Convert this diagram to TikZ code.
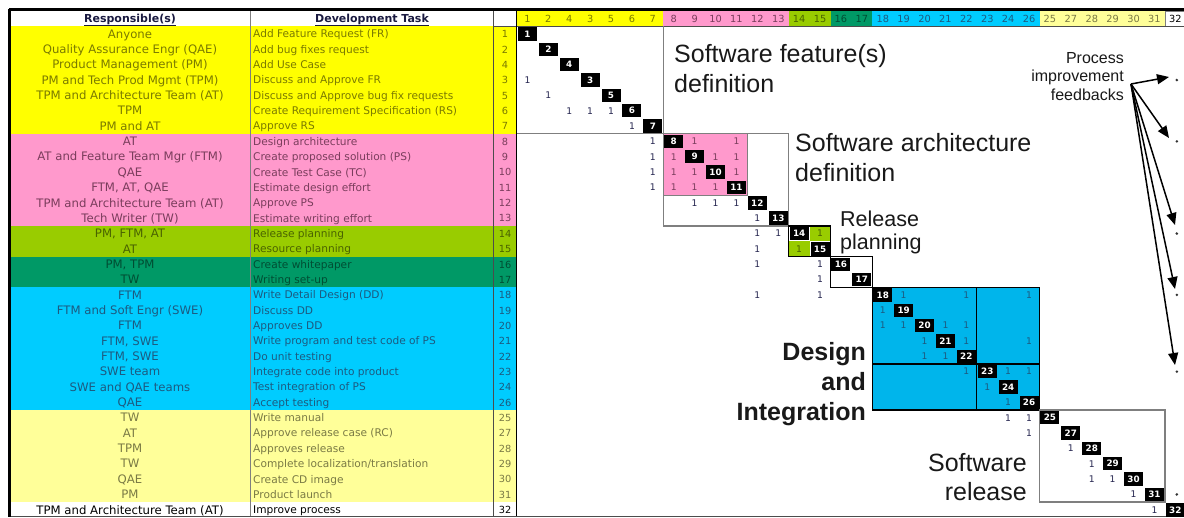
\documentclass[tikz,border=0pt]{standalone}
\usepackage{fontspec}
\setmainfont{DejaVu Sans}
\newfontfamily\arialf{Liberation Sans}
\usetikzlibrary{arrows.meta}

% group fills
\definecolor{fYel}{HTML}{FFFF00}
\definecolor{fPnk}{HTML}{FF99CC}
\definecolor{fGrn}{HTML}{99CC00}
\definecolor{fDGr}{HTML}{009966}
\definecolor{fCyn}{HTML}{00CCFF}
\definecolor{fLYl}{HTML}{FFFF99}
\definecolor{bCyn}{HTML}{00B5EB}
% group text tints
\definecolor{tYel}{HTML}{7A7A00}
\definecolor{tPnk}{HTML}{7A3D5C}
\definecolor{tGrn}{HTML}{4A6300}
\definecolor{tDGr}{HTML}{004D33}
\definecolor{tCyn}{HTML}{1D5A80}
\definecolor{tLYl}{HTML}{7A7A45}
\definecolor{cOne}{HTML}{262650}
\definecolor{cHead}{HTML}{1A1A40}
\definecolor{gLine}{HTML}{7F7F7F}

% position, item number, text tint
\def\items{1/1/tYel,2/2/tYel,3/4/tYel,4/3/tYel,5/5/tYel,6/6/tYel,7/7/tYel,
8/8/tPnk,9/9/tPnk,10/10/tPnk,11/11/tPnk,12/12/tPnk,13/13/tPnk,
14/14/tGrn,15/15/tGrn,16/16/tDGr,17/17/tDGr,
18/18/tCyn,19/19/tCyn,20/20/tCyn,21/21/tCyn,22/22/tCyn,23/23/tCyn,24/24/tCyn,25/26/tCyn,
26/25/tLYl,27/27/tLYl,28/28/tLYl,29/29/tLYl,30/30/tLYl,31/31/tLYl,32/32/black}

\begin{document}
\begin{tikzpicture}[x=1pt,y=-1pt,
  declare function={lx(\c)=517+(\c-1)*20.9; cx(\c)=517+(\c-0.5)*20.9;
                    ty(\r)=26.3+(\r-1)*15.35; cy(\r)=26.3+(\r-0.5)*15.35;},
  resp/.style={font=\fontsize{11.7}{13}\selectfont, inner sep=0pt, anchor=base},
  task/.style={font=\fontsize{10.6}{12}\selectfont, inner sep=0pt, anchor=base west},
  head/.style={font=\bfseries\fontsize{11}{12}\selectfont, inner sep=0pt, anchor=base, text=cHead},
  colnum/.style={font=\fontsize{9.8}{11}\selectfont, inner sep=0pt, anchor=base},
  one/.style={font=\fontsize{9.2}{10}\selectfont, inner sep=0pt, anchor=base, text=cOne},
  diagbox/.style={fill=black, minimum width=19pt, minimum height=13.4pt, inner sep=0pt,
                  text=white, font=\bfseries\fontsize{8.8}{10}\selectfont},
  big/.style={font=\arialf\fontsize{25}{30}\selectfont, inner sep=0pt, text=black!90},
  bigb/.style={big, font=\arialf\bfseries\fontsize{25}{30}\selectfont},
  mid/.style={big, font=\arialf\fontsize{21.5}{26}\selectfont},
  small/.style={big, font=\arialf\fontsize{16}{18}\selectfont},
  grayblock/.style={draw=gLine, line width=1.4pt},
  blackblock/.style={draw=black, line width=1.3pt},
  fbarrow/.style={draw=black, line width=1.5pt, -{Triangle[length=12pt,width=10pt]}},
  dot/.style={circle, fill=black!80, inner sep=0pt, minimum size=2.8pt}
]
\useasboundingbox (0,0) rectangle (1184,517);
\fill[white] (0,0) rectangle (1184,517);

% ---- row backgrounds of the task table ----
\foreach \a/\b/\col in {1/7/fYel, 8/13/fPnk, 14/15/fGrn, 16/17/fDGr, 18/25/fCyn, 26/31/fLYl}
  \fill[\col] (10.5,{ty(\a)}) rectangle (516,{ty(\b+1)});

% ---- column header cells of the matrix ----
\foreach \a/\b/\col in {1/7/fYel, 8/13/fPnk, 14/15/fGrn, 16/17/fDGr, 18/25/fCyn, 26/31/fLYl}
  \fill[\col] ({lx(\a)},10.5) rectangle ({lx(\b+1)},26.3);
\draw[gLine, line width=0.8pt] ({lx(32)},11) rectangle ({lx(33)},26.3);

% ---- table headers ----
\node[head] (hresp) at (130,22) {\underline{Responsible(s)}};
\node[head] (htask) at (372,22) {\underline{Development Task}};

% ---- table rows ----
\foreach \i/\rs/\tk/\tc in {
1/{Anyone}/{Add Feature Request (FR)}/tYel,
2/{Quality Assurance Engr (QAE)}/{Add bug fixes request}/tYel,
3/{Product Management (PM)}/{Add Use Case}/tYel,
4/{PM and Tech Prod Mgmt (TPM)}/{Discuss and Approve FR}/tYel,
5/{TPM and Architecture Team (AT)}/{Discuss and Approve bug fix requests}/tYel,
6/{TPM}/{Create Requirement Specification (RS)}/tYel,
7/{PM and AT}/{Approve RS}/tYel,
8/{AT}/{Design architecture}/tPnk,
9/{AT and Feature Team Mgr (FTM)}/{Create proposed solution (PS)}/tPnk,
10/{QAE}/{Create Test Case (TC)}/tPnk,
11/{FTM, AT, QAE}/{Estimate design effort}/tPnk,
12/{TPM and Architecture Team (AT)}/{Approve PS}/tPnk,
13/{Tech Writer (TW)}/{Estimate writing effort}/tPnk,
14/{PM, FTM, AT}/{Release planning}/tGrn,
15/{AT}/{Resource planning}/tGrn,
16/{PM, TPM}/{Create whitepaper}/tDGr,
17/{TW}/{Writing set-up}/tDGr,
18/{FTM}/{Write Detail Design (DD)}/tCyn,
19/{FTM and Soft Engr (SWE)}/{Discuss DD}/tCyn,
20/{FTM}/{Approves DD}/tCyn,
21/{FTM, SWE}/{Write program and test code of PS}/tCyn,
22/{FTM, SWE}/{Do unit testing}/tCyn,
23/{SWE team}/{Integrate code into product}/tCyn,
24/{SWE and QAE teams}/{Test integration of PS}/tCyn,
25/{QAE}/{Accept testing}/tCyn,
26/{TW}/{Write manual}/tLYl,
27/{AT}/{Approve release case (RC)}/tLYl,
28/{TPM}/{Approves release}/tLYl,
29/{TW}/{Complete localization/translation}/tLYl,
30/{QAE}/{Create CD image}/tLYl,
31/{PM}/{Product launch}/tLYl,
32/{TPM and Architecture Team (AT)}/{Improve process}/black}
{
  \node[resp, text=\tc] (r\i) at (130,{cy(\i)+4.2}) {\rs};
  \node[task, text=\tc] (t\i) at (253,{cy(\i)+3.9}) {\tk};
}

% ---- item numbers: row column and column header ----
\foreach \k/\n/\tc in \items {
  \node[colnum, text=\tc] (rn\k) at (505,{cy(\k)+3.8}) {\n};
  \node[colnum, text=\tc] (cn\k) at ({cx(\k)},22) {\n};
}

% ---- coloured blocks inside the matrix ----
\fill[fPnk] ({lx(8)},{ty(8)}) rectangle ({lx(12)},{ty(12)});
\draw[gLine, line width=0.8pt] ({lx(8)},{ty(8)}) rectangle ({lx(12)},{ty(12)});
\fill[fGrn] ({lx(15)},{ty(14)}) rectangle ({lx(16)},{ty(15)});
\fill[fGrn] ({lx(14)},{ty(15)}) rectangle ({lx(15)},{ty(16)});
\fill[bCyn] ({lx(18)},{ty(18)}) rectangle ({lx(26)},{ty(26)});

% ---- table grid ----
\draw[gLine, line width=0.9pt] (250,10.5) -- (250,517);
\draw[black!70, line width=0.9pt] (493,10.5) -- (493,517);
\draw[black!70, line width=0.8pt] (493,26.3) -- (1184,26.3);
\draw[black, line width=1.4pt] (516.3,10.5) -- (516.3,517);
\draw[black!70, line width=0.8pt] (10.5,516.5) -- (1184,516.5);
\draw[black, line width=3pt] (8.8,9.3) -- (1184,9.3);
\draw[black, line width=3pt] (9.3,9.3) -- (9.3,517);

% ---- block outlines ----
\draw[grayblock] ({lx(1)},{ty(8)}) -- ({lx(8)},{ty(8)}) -- ({lx(8)},26.3);
\draw[grayblock] ({lx(8)},{ty(8)}) rectangle ({lx(14)},{ty(14)});
\draw[blackblock] ({lx(14)},{ty(14)}) rectangle ({lx(16)},{ty(16)});
\draw[blackblock] ({lx(16)},{ty(16)}) rectangle ({lx(18)},{ty(18)});
\draw[blackblock] ({lx(18)},{ty(18)}) rectangle ({lx(26)},{ty(26)});
\draw[blackblock] ({lx(23)},{ty(18)}) -- ({lx(23)},{ty(26)});
\draw[blackblock] ({lx(18)},{ty(23)}) -- ({lx(26)},{ty(23)});
\draw[grayblock] ({lx(26)},{ty(26)}) rectangle ({lx(32)},{ty(32)});

% ---- diagonal ----
\foreach \k/\n/\tc in \items
  \node[diagbox] (d\k) at ({cx(\k)},{cy(\k)}) {\n};

% ---- dependency marks ----
\foreach \r/\c in {4/1,5/2,6/3,6/4,6/5,7/6,8/7,9/7,10/7,11/7,12/9,12/10,12/11,13/12,
                   14/12,14/13,15/12,16/12,16/15,17/15,18/12,18/15,26/24,26/25,27/25,
                   28/27,29/28,30/28,30/29,31/30,32/31}
  \node[one] (e\r-\c) at ({cx(\c)},{cy(\r)+3.3}) {1};
\foreach \r/\c in {8/9,8/11,9/8,9/10,9/11,10/8,10/9,10/11,11/8,11/9,11/10}
  \node[one, text=tPnk] (e\r-\c) at ({cx(\c)},{cy(\r)+3.3}) {1};
\foreach \r/\c in {14/15,15/14}
  \node[one, text=tGrn] (e\r-\c) at ({cx(\c)},{cy(\r)+3.3}) {1};
\foreach \r/\c in {18/19,18/22,18/25,19/18,20/18,20/19,20/21,20/22,21/20,21/22,21/25,
                   22/20,22/21,23/22,23/24,23/25,24/23,25/24}
  \node[one, text=tCyn] (e\r-\c) at ({cx(\c)},{cy(\r)+3.3}) {1};

% feedback marks in the last column
\foreach \r in {4,8,14,18,23,31}
  \node[dot] (p\r) at ({cx(32)+1.5},{cy(\r)}) {};

% ---- phase labels ----
\node[big, anchor=base west] (sf1) at (674,62) {Software feature(s)};
\node[big, anchor=base west] (sf2) at (674,92) {definition};
\node[big, anchor=base west] (sa1) at (795,151) {Software architecture};
\node[big, anchor=base west] (sa2) at (795,181) {definition};
\node[mid, anchor=base west] (rp1) at (840,226) {Release};
\node[mid, anchor=base west] (rp2) at (840,249) {planning};
\node[bigb, anchor=base east] (di1) at (866,360) {Design};
\node[bigb, anchor=base east] (di2) at (866,390) {and};
\node[bigb, anchor=base east] (di3) at (866,420) {Integration};
\node[big, anchor=base east] (sr1) at (1027,471) {Software};
\node[big, anchor=base east] (sr2) at (1027,500) {release};
\node[small, anchor=base east] (pi1) at (1124,63) {Process};
\node[small, anchor=base east] (pi2) at (1124,81) {improvement};
\node[small, anchor=base east] (pi3) at (1124,100) {feedbacks};

% ---- process improvement feedback arrows ----
\coordinate (src) at (1131,84);
\foreach \k/\x/\y in {1/1169/77, 2/1169/138, 3/1175/225, 4/1175/289, 5/1175/365} {
  \coordinate (fb\k) at (\x,\y);
  \draw[fbarrow] (src) -- (fb\k);
}
\end{tikzpicture}
\end{document}
